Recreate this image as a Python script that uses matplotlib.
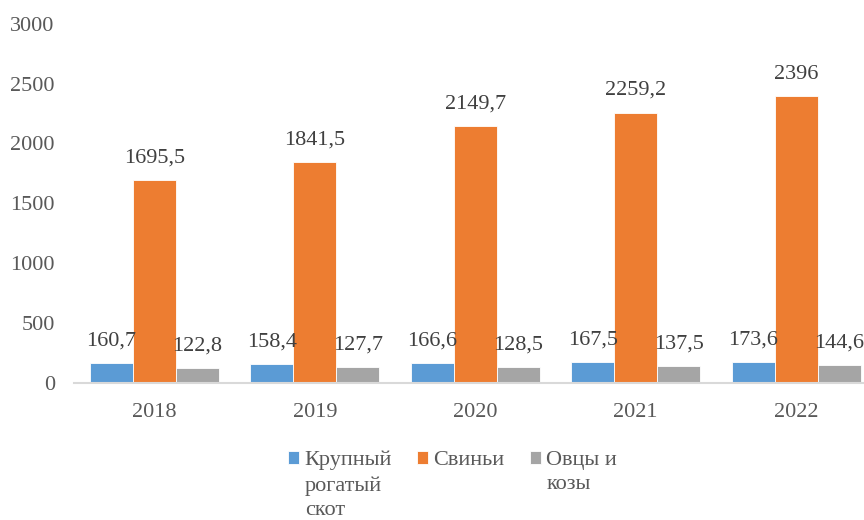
import matplotlib.pyplot as plt
import numpy as np

# data
years = ["2018", "2019", "2020", "2021", "2022"]
cattle = [160.7, 158.4, 166.6, 167.5, 173.6]
pigs = [1695.5, 1841.5, 2149.7, 2259.2, 2396]
sheep = [122.8, 127.7, 128.5, 137.5, 144.6]
seriesNames = ["Крупный\nрогатый\nскот", "Свиньи", "Овцы и\nкозы"]
seriesColors = ["#5B9BD5", "#ED7D31", "#A5A5A5"]

plt.rcParams['font.family'] = ['Liberation Serif', 'DejaVu Serif']
textColor = "#595959"

fig = plt.figure(figsize=(8.64, 5.2), dpi=100)
ax = fig.add_axes([74.25 / 864, 137.5 / 520, 802 / 864, 358.5 / 520])

x = np.arange(len(years))
barWidth = 0.268
allSeries = [cattle, pigs, sheep]

for i in range(len(allSeries)):
    offset = (i - 1) * barWidth
    bars = ax.bar(x + offset, allSeries[i], barWidth, color=seriesColors[i],
                  label=seriesNames[i], edgecolor="white", linewidth=0.6)
    labels = [f"{v:g}".replace(".", ",") for v in allSeries[i]]
    ax.bar_label(bars, labels=labels, padding=9, fontsize=16, color="#404040")

ax.set_xlim(-0.5, len(years) - 0.5)
ax.set_ylim(0, 3000)
ax.set_yticks(np.arange(0, 3001, 500))
ax.set_xticks(x)
ax.set_xticklabels(years)
ax.tick_params(axis='both', length=0, labelsize=16, labelcolor=textColor)
ax.tick_params(axis='y', pad=14)
ax.tick_params(axis='x', pad=14.5)

for side in ["top", "right", "left"]:
    ax.spines[side].set_visible(False)
ax.spines["bottom"].set_color("#D9D9D9")
ax.spines["bottom"].set_linewidth(1.5)

leg = fig.legend(loc='upper left', bbox_to_anchor=(288 / 864, 1 - 451 / 520),
                 ncol=3, frameon=False, fontsize=16, handlelength=0.5,
                 handleheight=0.5, handletextpad=0.25, columnspacing=1.12,
                 borderpad=0, borderaxespad=0, labelcolor=textColor)
for t in leg.get_texts():
    t.set_linespacing(1.38)
# put the colour square next to the first line and top-align the columns
leg._legend_handle_box.align = "top"
for col in leg._legend_handle_box.get_children():
    col.align = "left"
    for item in col.get_children():
        item.align = "top"

fig.savefig("out.png", dpi=100)
